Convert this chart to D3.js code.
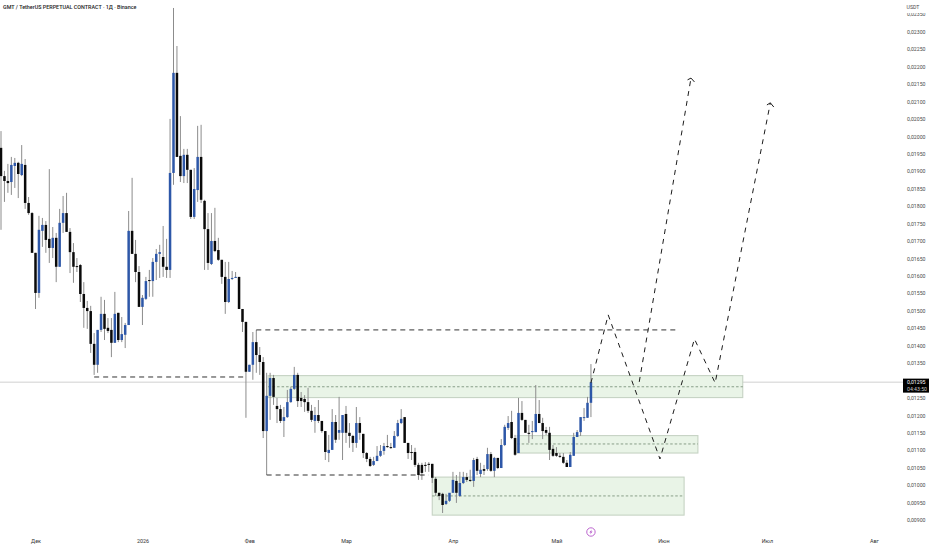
<!DOCTYPE html>
<html lang="ru">
<head>
  <meta charset="UTF-8">
  <title>GMT / TetherUS</title>
  <script src="https://d3js.org/d3.v7.min.js"></script>
  <style>
    html, body { margin: 0; padding: 0; background: #fff; }
    svg { display: block; }
    text { font-family: Roboto, "Noto Sans", sans-serif; }
  </style>
</head>
<body>
  <svg id="chart" width="932" height="550"></svg>
  <script>
    // prices are in 0.00001 USDT, one candle per day from firstDay
    const firstDay = "2025-11-21";

    const opens = [
      1967,1886,1872,1869,1915,1924,1889,1918,1809,1780,
      1666,1551,1729,1746,1706,1680,1709,1626,1752,1780,
      1726,1668,1628,1631,1548,1508,1499,1405,1345,1445,
      1491,1451,1445,1408,1494,1416,1431,1459,1729,1663,
      1611,1511,1534,1588,1585,1640,1663,1654,1626,1617,
      1895,2182,1944,1886,1947,1904,1769,1846,1941,1815,
      1734,1634,1700,1674,1646,1597,1525,1591,1594,1597,
      1505,1468,1325,1345,1410,1373,1353,1155,1256,1307,
      1227,1218,1184,1195,1238,1276,1316,1250,1247,1238,
      1213,1184,1201,1184,1155,1092,1101,1181,1150,1150,
      1204,1150,1141,1121,1178,1147,1092,1075,1058,1069,
      1084,1098,1112,1109,1107,1141,1178,1195,1121,1095,
      1095,1058,1058,1058,1061,1061,1018,978,975,946,
      955,978,1012,969,1006,1023,1015,1012,1075,1032,
      1046,1046,1089,1041,1078,1049,1115,1164,1181,1135,
      1092,1207,1187,1150,1152,1152,1204,1178,1158,1150,
      1104,1092,1084,1081,1064,1052,1084,1138,1152,1193,1193,1236
    ];
    const highs = [
      2015,1901,1921,1941,1938,1927,1975,1935,1826,1783,
      1666,1772,1766,1757,1906,1740,1723,1792,1829,1838,
      1737,1694,1651,1634,1582,1528,1514,1436,1445,1540,
      1531,1479,1479,1554,1494,1482,1465,1786,1881,1703,
      1628,1545,1597,1617,1651,1677,1689,1743,1706,2050,
      2368,2259,2058,1964,1964,1904,1909,2030,2033,1818,
      1780,1780,1795,1709,1646,1640,1640,1614,1611,1597,
      1505,1468,1345,1439,1445,1396,1367,1322,1322,1316,
      1250,1230,1224,1273,1281,1339,1322,1267,1258,1279,
      1230,1224,1244,1184,1155,1144,1218,1201,1253,1201,
      1227,1178,1144,1224,1195,1147,1095,1081,1081,1112,
      1115,1121,1144,1121,1155,1187,1218,1195,1121,1115,
      1107,1064,1064,1066,1066,1061,1023,978,978,975,
      975,1038,1029,1038,1038,1035,1044,1078,1081,1064,
      1058,1107,1095,1081,1078,1132,1173,1198,1213,1144,
      1250,1241,1187,1173,1184,1287,1244,1193,1167,1167,
      1115,1109,1092,1092,1072,1095,1150,1158,1195,1221,1253,1347
    ];
    const lows = [
      1732,1812,1838,1832,1852,1823,1886,1792,1775,1666,
      1505,1537,1683,1666,1637,1651,1582,1626,1723,1726,
      1608,1580,1611,1525,1451,1448,1379,1316,1322,1439,
      1416,1436,1367,1408,1410,1410,1393,1459,1663,1582,
      1511,1459,1531,1540,1540,1588,1594,1597,1594,1594,
      1861,1941,1869,1866,1866,1763,1763,1812,1809,1617,
      1617,1631,1668,1643,1577,1491,1522,1588,1594,1505,
      1439,1193,1325,1302,1322,1316,1135,1029,1187,1230,
      1178,1178,1138,1193,1236,1273,1224,1224,1210,1207,
      1181,1150,1178,1150,1072,1066,1101,1121,1130,1072,
      1121,1107,1095,1107,1130,1078,1066,1052,1055,1069,
      1081,1087,1107,1104,1107,1138,1175,1121,1075,1072,
      1052,1015,1015,1038,1038,1006,969,957,920,943,
      952,978,949,966,1003,1009,1009,995,1029,1023,
      1029,1041,1038,1023,1046,1049,1112,1158,1132,1084,
      1092,1184,1150,1121,1132,1152,1178,1132,1144,1072,
      1081,1081,1078,1061,1052,1052,1084,1138,1141,1184,1193,1195
    ];
    const closes = [
      1886,1872,1866,1918,1924,1892,1921,1809,1780,1666,
      1551,1732,1746,1703,1680,1709,1626,1752,1780,1726,
      1668,1626,1626,1548,1508,1499,1405,1345,1445,1491,
      1448,1442,1408,1491,1416,1433,1459,1729,1663,1611,
      1511,1537,1585,1585,1640,1663,1668,1626,1617,1895,
      2182,1941,1886,1947,1904,1769,1849,1941,1818,1734,
      1637,1700,1671,1646,1597,1525,1591,1594,1597,1505,
      1468,1325,1345,1410,1373,1353,1155,1256,1307,1253,
      1218,1184,1195,1238,1276,1316,1241,1241,1238,1213,
      1187,1201,1184,1155,1095,1101,1181,1130,1158,1201,
      1150,1141,1121,1178,1150,1092,1075,1055,1069,1084,
      1098,1112,1109,1107,1141,1178,1190,1121,1092,1092,
      1058,1029,1035,1055,1058,1021,978,969,943,955,
      978,1015,978,1006,1023,1015,1012,1072,1041,1044,
      1041,1089,1041,1078,1049,1115,1167,1178,1135,1087,
      1207,1187,1150,1147,1155,1204,1178,1155,1150,1101,
      1084,1084,1081,1064,1052,1087,1138,1152,1195,1195,1236,1295
    ];

    const lastPrice = 1295;
    const countdown = "04:43:50";
    const titleText = "GMT / TetherUS PERPETUAL CONTRACT · 1Д · Binance";

    const priceTicks = d3.range(900, 2351, 50);
    const monthDates = ["2025-12-01","2026-01-01","2026-02-01","2026-03-01","2026-04-01","2026-05-01","2026-06-01","2026-07-01","2026-08-01"];
    const monthLabels = ["Дек","2026","Фев","Мар","Апр","Май","Июн","Июл","Авг"];

    // green zones: from, to, top price, bottom price, dotted middle price
    const zoneFrom = ["2026-02-06T10:00Z","2026-04-19T15:00Z","2026-03-26"];
    const zoneTo = ["2026-06-24","2026-06-11","2026-06-07"];
    const zoneTop = [1314,1142,1023];
    const zoneBottom = [1251,1092,914];
    const zoneMid = [1282,1118,969];

    // flat dashed levels
    const levelFrom = ["2025-12-18","2026-02-03","2026-02-06"];
    const levelTo = ["2026-01-31","2026-06-05","2026-03-25"];
    const levelPrice = [1310,1445,1029];

    // projected paths
    const pathA = [["2026-05-11",1293],["2026-05-16",1488],["2026-05-31",1075],["2026-06-10",1419],["2026-06-16",1293],["2026-07-02",2096]];
    const pathB = [["2026-05-25",1296],["2026-06-09",2167]];
    const headA = [["2026-06-08",2162],["2026-06-09",2167],["2026-06-10",2156]];
    const headB = [["2026-07-01",2090],["2026-07-02",2096],["2026-07-03",2084]];

    const svg = d3.select("#chart");
    const parse = s => new Date(s.length > 10 ? s : s + "T00:00Z");

    const start = parse(firstDay);
    const x = d3.scaleUtc().domain([start, d3.utcDay.offset(start, 260)]).range([1, 898]);
    const y = d3.scaleLinear().domain([900, 2300]).range([520, 31.7]);
    const candleX = i => x(d3.utcDay.offset(start, i));

    const candles = opens.map((o, i) => ({ i, o, h: highs[i], l: lows[i], c: closes[i] }));
    const blue = "#2d57a8", black = "#0a0a0a", wick = "#8c8c8c", ink = "#1c1c1c";

    // last price line
    svg.append("line")
      .attr("x1", 0).attr("x2", 904)
      .attr("y1", y(lastPrice)).attr("y2", y(lastPrice))
      .attr("stroke", "#e0e0e0").attr("stroke-width", 1.4);

    // zones
    zoneFrom.forEach((from, i) => {
      svg.append("rect")
        .attr("x", x(parse(from)))
        .attr("y", y(zoneTop[i]))
        .attr("width", x(parse(zoneTo[i])) - x(parse(from)))
        .attr("height", y(zoneBottom[i]) - y(zoneTop[i]))
        .attr("fill", "#e9f4e7")
        .attr("stroke", "#c6d3c4")
        .attr("stroke-width", 1.1);
      svg.append("line")
        .attr("x1", x(parse(from))).attr("x2", x(parse(zoneTo[i])))
        .attr("y1", y(zoneMid[i])).attr("y2", y(zoneMid[i]))
        .attr("stroke", "#5f7a60")
        .attr("stroke-width", 0.7)
        .attr("stroke-dasharray", "2.5 2");
    });

    // candles
    svg.append("g").selectAll("line").data(candles).join("line")
      .attr("x1", d => candleX(d.i)).attr("x2", d => candleX(d.i))
      .attr("y1", d => y(d.h)).attr("y2", d => y(d.l))
      .attr("stroke", wick).attr("stroke-width", 1);

    svg.append("g").selectAll("rect").data(candles).join("rect")
      .attr("x", d => candleX(d.i) - 1.25)
      .attr("y", d => y(Math.max(d.o, d.c)))
      .attr("width", 2.5)
      .attr("height", d => Math.max(1, Math.abs(y(d.o) - y(d.c))))
      .attr("fill", d => d.c >= d.o ? blue : black);

    // flat levels
    levelFrom.forEach((from, i) => {
      svg.append("line")
        .attr("x1", x(parse(from))).attr("x2", x(parse(levelTo[i])))
        .attr("y1", y(levelPrice[i])).attr("y2", y(levelPrice[i]))
        .attr("stroke", ink)
        .attr("stroke-width", 0.9)
        .attr("stroke-dasharray", "5 4");
    });

    // projected moves
    const line = d3.line().x(d => x(parse(d[0]))).y(d => y(d[1]));
    [pathA, pathB, headA, headB].forEach((pts, i) => {
      svg.append("path")
        .attr("d", line(pts))
        .attr("fill", "none")
        .attr("stroke", ink)
        .attr("stroke-width", 1)
        .attr("stroke-dasharray", i < 2 ? "5 5" : null);
    });

    // price axis
    const yAxis = d3.axisRight(y)
      .tickValues(priceTicks)
      .tickSize(0)
      .tickPadding(0)
      .tickFormat(d => "0," + d3.format("05d")(d));
    svg.append("g")
      .attr("transform", "translate(907,0)")
      .call(yAxis)
      .call(g => g.select(".domain").remove())
      .call(g => g.selectAll("text").attr("fill", "#4a4a4a").attr("font-size", 5.2));

    svg.append("rect").attr("x", 900).attr("y", 0).attr("width", 32).attr("height", 13).attr("fill", "#fff");
    svg.append("text")
      .attr("x", 913).attr("y", 9)
      .attr("text-anchor", "middle")
      .attr("font-size", 5.2)
      .attr("fill", "#4a4a4a")
      .text("USDT");

    // last price tag
    svg.append("rect")
      .attr("x", 903).attr("y", y(lastPrice) - 3.6)
      .attr("width", 26).attr("height", 14)
      .attr("fill", "#000");
    svg.append("text")
      .attr("x", 907).attr("y", y(lastPrice) + 2.2)
      .attr("font-size", 5.2).attr("fill", "#fff")
      .text("0," + d3.format("05d")(lastPrice));
    svg.append("text")
      .attr("x", 907).attr("y", y(lastPrice) + 8.6)
      .attr("font-size", 5.2).attr("fill", "#c8c8c8")
      .text(countdown);

    // time axis
    const xAxis = d3.axisBottom(x)
      .tickValues(monthDates.map(parse))
      .tickSize(0)
      .tickPadding(0)
      .tickFormat((d, i) => monthLabels[i]);
    svg.append("g")
      .attr("transform", "translate(0,539)")
      .call(xAxis)
      .call(g => g.select(".domain").remove())
      .call(g => g.selectAll("text").attr("fill", "#333").attr("font-size", 5.4).attr("dy", "0.71em"));

    // lightning marker under the last candle
    const marker = svg.append("g").attr("transform", `translate(${candleX(candles.length - 1)},532)`);
    marker.append("circle").attr("r", 4.2).attr("fill", "#fff").attr("stroke", "#b455c8").attr("stroke-width", 0.9);
    marker.append("path").attr("d", "M0.8,-2.6L-1.6,0.5H-0.1L-0.8,2.6L1.6,-0.6H0.1Z").attr("fill", "#b455c8");

    svg.append("text")
      .attr("x", 3).attr("y", 9)
      .attr("font-size", 5.4)
      .attr("font-weight", 500)
      .attr("fill", "#222")
      .text(titleText);
  </script>
</body>
</html>
